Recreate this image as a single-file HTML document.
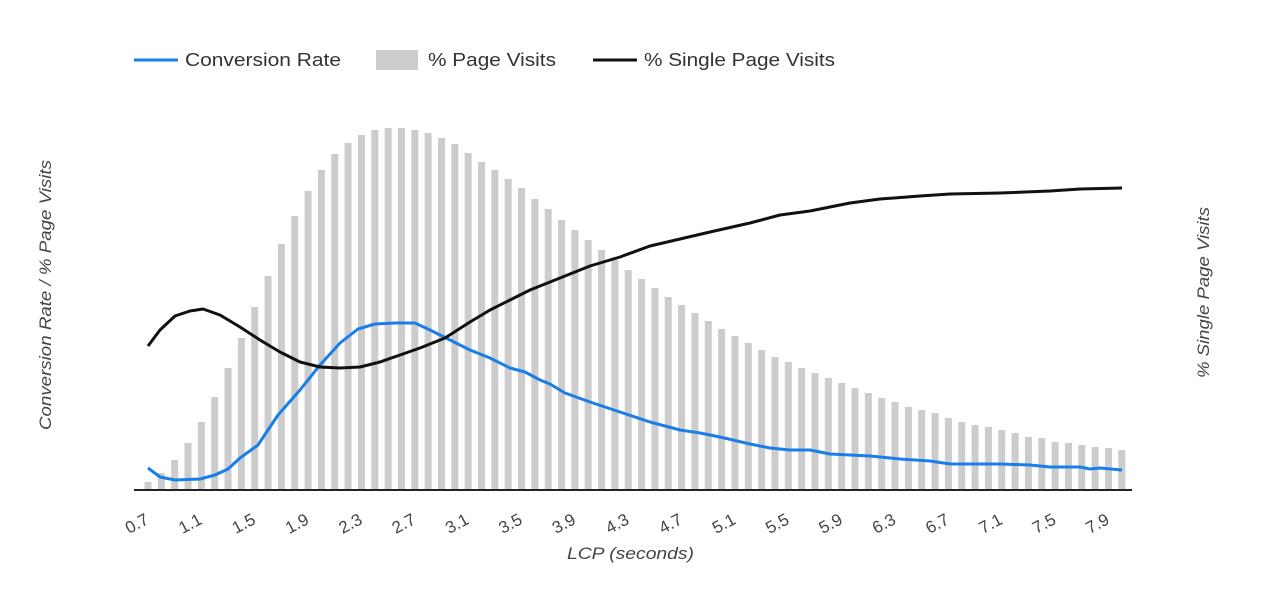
<!DOCTYPE html>
<html><head><meta charset="utf-8"><style>
html,body{margin:0;padding:0;background:#fff;}
svg{display:block;font-family:"Liberation Sans",Arial,sans-serif;}
</style></head><body>
<svg width="1264" height="610" viewBox="0 0 1264 610" xmlns="http://www.w3.org/2000/svg">
<g id="bars" fill="#cccccc"></g>
<line x1="134" y1="490" x2="1132" y2="490" stroke="#222" stroke-width="2"/>
<polyline fill="none" stroke="#1a7ee8" stroke-width="3" stroke-linejoin="round" points="148,468 160,477 175,480 200,479 215,475 228,469 240,458 258,445 278,415 300,390 320,365 340,343 358,329 375,324 395,323 415,323 430,330 450,340 470,350 490,358 510,368 525,372 540,380 550,384 565,393 590,402 620,412 650,422 680,430 700,433 720,437 750,444 770,448 790,450 810,450 830,454 850,455 870,456 880,457 900,459 930,461 950,464 980,464 1000,464 1030,465 1050,467 1080,467 1090,469 1100,468 1122,470"/>
<polyline fill="none" stroke="#111" stroke-width="3" stroke-linejoin="round" points="148,346 160,330 175,316 190,311 203,309 220,315 240,327 260,340 280,352 300,362 320,367 340,368 360,367 380,362 400,355 420,348 445,338 470,322 490,310 510,300 530,290 550,282 570,274 590,266 620,257 650,246 680,239 710,232 750,223 780,215 810,211 850,203 880,199 920,196 950,194 1000,193 1050,191 1080,189 1122,188"/>
<g font-size="18" fill="#333">
<line x1="134" y1="60" x2="178" y2="60" stroke="#1a7ee8" stroke-width="3"/>
<text x="185" y="66" textLength="156" lengthAdjust="spacingAndGlyphs">Conversion Rate</text>
<rect x="376" y="50" width="42" height="20" fill="#cccccc"/>
<text x="428" y="66" textLength="128" lengthAdjust="spacingAndGlyphs">% Page Visits</text>
<line x1="593" y1="60" x2="637" y2="60" stroke="#111" stroke-width="3"/>
<text x="644" y="66" textLength="191" lengthAdjust="spacingAndGlyphs">% Single Page Visits</text>
</g>
<g id="ticks" font-size="17" fill="#444"></g>
<text x="567" y="559" font-size="17" font-style="italic" fill="#444" textLength="127" lengthAdjust="spacingAndGlyphs">LCP (seconds)</text>
<text transform="translate(51,430) rotate(-90)" font-size="17" font-style="italic" fill="#444" textLength="270" lengthAdjust="spacingAndGlyphs">Conversion Rate / % Page Visits</text>
<text transform="translate(1209,378) rotate(-90)" font-size="17" font-style="italic" fill="#444" textLength="171" lengthAdjust="spacingAndGlyphs">% Single Page Visits</text>
</svg>
<script>
var tops=[482,473,460,443,422,397,368,338,307,276,244,216,191,170,154,143,135,130,128,128,130,133,138,144,153,162,170,179,188,199,209,220,230,240,250,260,270,279,288,297,305,313,321,329,336,343,350,357,362,368,373,378,383,388,393,398,402,407,410,413,418,422,425,427,430,433,437,438,442,443,445,447,448,450];
var ns="http://www.w3.org/2000/svg",g=document.getElementById("bars");
for(var i=0;i<tops.length;i++){var cx=148+i*13.34;var r=document.createElementNS(ns,"rect");r.setAttribute("x",cx-3.5);r.setAttribute("y",tops[i]);r.setAttribute("width",7);r.setAttribute("height",490-tops[i]);g.appendChild(r);}
var t=document.getElementById("ticks");
for(var k=0;k<19;k++){var v=(0.7+k*0.4).toFixed(1);var cx=148+k*4*13.34;var tx=document.createElementNS(ns,"text");tx.setAttribute("transform","translate("+(cx+2)+",523) rotate(-28)");tx.setAttribute("text-anchor","end");tx.textContent=v;t.appendChild(tx);}
</script>
</body></html>
